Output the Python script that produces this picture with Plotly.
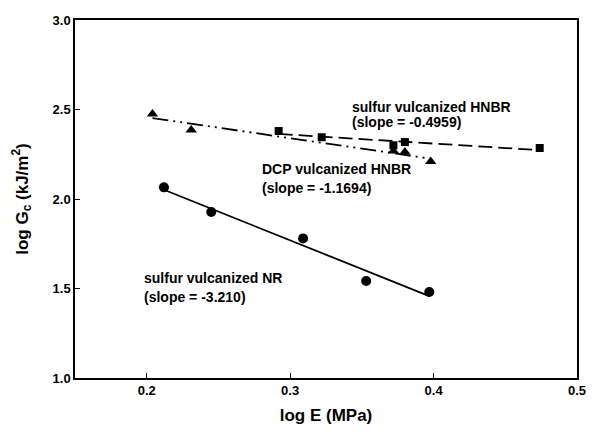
import numpy as np
import plotly.graph_objects as go

# NR, sulfur vulcanized (circles)
nr_x = [0.212, 0.245, 0.309, 0.353, 0.397]
nr_y = [2.065, 1.927, 1.780, 1.542, 1.480]
nr_slope = -3.210

# HNBR, sulfur vulcanized (squares)
hs_x = [0.292, 0.322, 0.372, 0.380, 0.474]
hs_y = [2.380, 2.345, 2.300, 2.318, 2.285]
hs_slope = -0.4959

# HNBR, DCP vulcanized (triangles)
hd_x = [0.204, 0.231, 0.372, 0.380, 0.398]
hd_y = [2.475, 2.385, 2.268, 2.262, 2.210]
hd_slope = -1.1694

x_ticks = [0.2, 0.3, 0.4, 0.5]
y_ticks = [1.0, 1.5, 2.0, 2.5, 3.0]

labels = [
    (0.342, 2.514, "sulfur vulcanized HNBR"),
    (0.342, 2.430, "(slope = -0.4959)"),
    (0.279, 2.168, "DCP vulcanized HNBR"),
    (0.279, 2.061, "(slope = -1.1694)"),
    (0.197, 1.559, "sulfur vulcanized NR"),
    (0.197, 1.453, "(slope = -3.210)"),
]

FONT = "Liberation Sans, Arial, sans-serif"


def fit_line(xs, ys, slope):
    xs = np.array(xs)
    ys = np.array(ys)
    b = ys.mean() - slope * xs.mean()
    lx = np.array([xs.min(), xs.max()])
    return lx, slope * lx + b


fig = go.Figure()

for xs, ys, slope, dash in [
    (nr_x, nr_y, nr_slope, "solid"),
    (hs_x, hs_y, hs_slope, "14px,6px"),
    (hd_x, hd_y, hd_slope, "16px,5px,2px,5px,2px,5px"),
]:
    lx, ly = fit_line(xs, ys, slope)
    fig.add_trace(go.Scatter(x=lx, y=ly, mode="lines",
                             line=dict(color="black", width=1.8, dash=dash),
                             showlegend=False, hoverinfo="skip"))

fig.add_trace(go.Scatter(x=nr_x, y=nr_y, mode="markers",
                         marker=dict(symbol="circle", size=10, color="black"),
                         showlegend=False))
fig.add_trace(go.Scatter(x=hs_x, y=hs_y, mode="markers",
                         marker=dict(symbol="square", size=8, color="black"),
                         showlegend=False))
fig.add_trace(go.Scatter(x=hd_x, y=hd_y, mode="markers",
                         marker=dict(symbol="triangle-up", size=10, color="black"),
                         showlegend=False))

ann_font = dict(family=FONT, size=14, color="black")
for x, y, txt in labels:
    fig.add_annotation(x=x, y=y, text="<b>%s</b>" % txt, showarrow=False,
                       xanchor="left", yanchor="middle", align="left",
                       font=ann_font)

axis_common = dict(showline=True, linecolor="black", linewidth=1.5, mirror=True,
                   ticks="inside", ticklen=5, tickcolor="black", tickwidth=1.2,
                   showgrid=False, zeroline=False,
                   tickfont=dict(family=FONT, size=13, color="black"))

fig.update_xaxes(range=[0.15, 0.5], tickvals=x_ticks,
                 ticktext=["<b>%.1f</b>" % v for v in x_ticks],
                 title=dict(text="<b>log E (MPa)</b>",
                            font=dict(family=FONT, size=17, color="black"),
                            standoff=12),
                 **axis_common)
fig.update_yaxes(range=[1.0, 3.0], tickvals=y_ticks,
                 ticktext=["<b>%.1f</b>" % v for v in y_ticks],
                 title=dict(text="<b>log G<sub>c</sub> (kJ/m<sup>2</sup>)</b>",
                            font=dict(family=FONT, size=17, color="black"),
                            standoff=20),
                 **axis_common)

fig.update_layout(width=598, height=435, margin=dict(l=75, r=12, t=20, b=57),
                  plot_bgcolor="white", paper_bgcolor="white")

fig.write_html("out.html")
